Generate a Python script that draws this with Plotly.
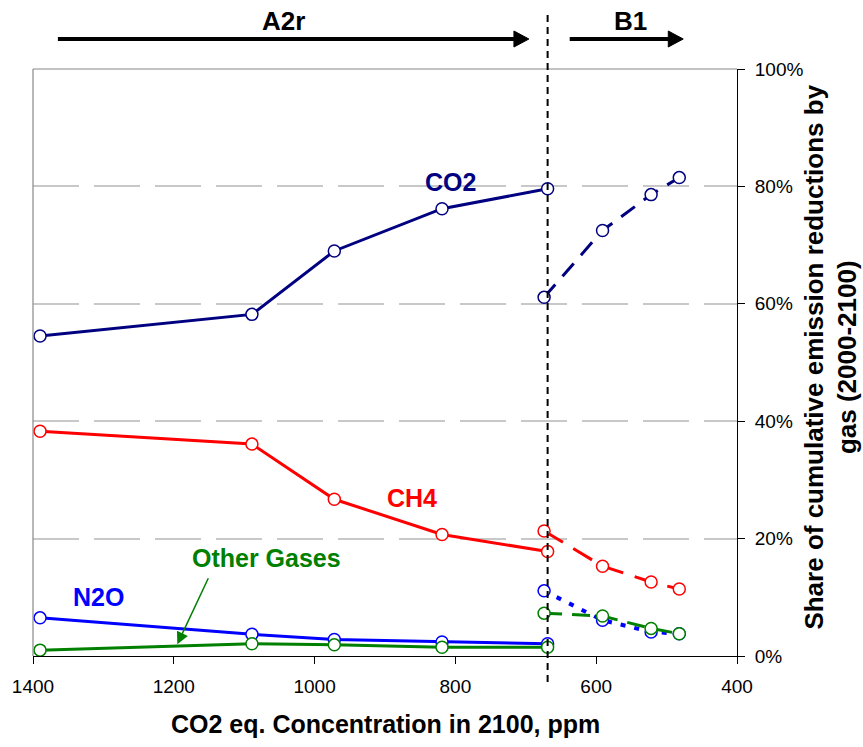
import plotly.graph_objects as go

# CO2-eq concentration in 2100 (ppm) for each scenario family
conc_a2r = [1390, 1089, 972, 819, 669]
conc_b1 = [674, 591, 522, 482]

# Share of cumulative emission reductions 2000-2100 (%), by gas
co2_a2r = [54.5, 58.2, 69.0, 76.2, 79.6]
ch4_a2r = [38.3, 36.1, 26.7, 20.7, 17.8]
n2o_a2r = [6.5, 3.7, 2.8, 2.4, 2.1]
oth_a2r = [1.0, 2.1, 1.9, 1.5, 1.5]

co2_b1 = [61.1, 72.5, 78.6, 81.5]
ch4_b1 = [21.3, 15.3, 12.6, 11.4]
n2o_b1 = [11.1, 6.1, 4.1, 3.8]
oth_b1 = [7.3, 6.8, 4.7, 3.8]

x_ticks = [1400, 1200, 1000, 800, 600, 400]
y_ticks = [0, 20, 40, 60, 80, 100]
y_tick_text = [f"{v}%" for v in y_ticks]

FONT = "Liberation Sans, Arial, sans-serif"
NAVY, RED, BLUE, GREEN = "#000080", "#FF0000", "#0000FF", "#008000"

W, H = 863, 747
L, R, T, B = 30, 126, 69, 91
PW, PH = W - L - R, H - T - B


def px_x(p):
    return (p - L) / PW


def px_y(p):
    return (H - B - p) / PH


fig = go.Figure()

series = [
    (co2_a2r, co2_b1, NAVY, "17px,11px", 3),
    (ch4_a2r, ch4_b1, RED, "22px,12px", 3),
    (n2o_a2r, n2o_b1, BLUE, "5px,9px", 4),
    (oth_a2r, oth_b1, GREEN, "18px,10px", 3),
]

for a2r, b1, color, dash, bw in series:
    fig.add_trace(go.Scatter(
        x=conc_a2r, y=a2r, mode="lines+markers",
        line=dict(color=color, width=3),
        marker=dict(symbol="circle", size=12, color="white",
                    line=dict(color=color, width=1.5)),
        cliponaxis=False, showlegend=False, hoverinfo="skip"))
    fig.add_trace(go.Scatter(
        x=conc_b1, y=b1, mode="lines+markers",
        line=dict(color=color, width=bw, dash=dash),
        marker=dict(symbol="circle", size=12, color="white",
                    line=dict(color=color, width=1.5)),
        cliponaxis=False, showlegend=False, hoverinfo="skip"))

shapes = [
    # gray frame on the left and top
    dict(type="line", xref="paper", yref="paper", x0=0, x1=0, y0=0, y1=1,
         line=dict(color="#888888", width=1.2)),
    dict(type="line", xref="paper", yref="paper", x0=0, x1=1, y0=1, y1=1,
         line=dict(color="#888888", width=1.2)),
    # boundary between the scenario families
    dict(type="line", xref="x", yref="paper", x0=conc_a2r[-1], x1=conc_a2r[-1],
         y0=px_y(682), y1=px_y(12),
         line=dict(color="black", width=2, dash="7px,5px")),
    # A2r arrow
    dict(type="line", xref="paper", yref="paper",
         x0=px_x(55), x1=px_x(515), y0=px_y(39), y1=px_y(39),
         line=dict(color="black", width=4)),
    dict(type="path", xref="paper", yref="paper",
         path=f"M {px_x(513)} {px_y(31)} L {px_x(528)} {px_y(39)} "
              f"L {px_x(513)} {px_y(47)} Z",
         fillcolor="black", line=dict(color="black", width=1)),
    # B1 arrow
    dict(type="line", xref="paper", yref="paper",
         x0=px_x(569), x1=px_x(670), y0=px_y(39), y1=px_y(39),
         line=dict(color="black", width=4)),
    dict(type="path", xref="paper", yref="paper",
         path=f"M {px_x(668)} {px_y(31)} L {px_x(683)} {px_y(39)} "
              f"L {px_x(668)} {px_y(47)} Z",
         fillcolor="black", line=dict(color="black", width=1)),
]

label_font = dict(family=FONT, size=25)
centered = dict(xanchor="center", yanchor="middle", showarrow=False)
annotations = [
    dict(x=px_x(282), y=px_y(21), xref="paper", yref="paper", text="<b>A2r</b>",
         font=dict(family=FONT, size=26, color="black"), **centered),
    dict(x=px_x(630), y=px_y(21), xref="paper", yref="paper", text="<b>B1</b>",
         font=dict(family=FONT, size=26, color="black"), **centered),
    dict(x=807, y=80.7, xref="x", yref="y", text="<b>CO2</b>",
         font=dict(label_font, color=NAVY), **centered),
    dict(x=862, y=26.9, xref="x", yref="y", text="<b>CH4</b>",
         font=dict(label_font, color=RED), **centered),
    dict(x=1307, y=10.0, xref="x", yref="y", text="<b>N2O</b>",
         font=dict(label_font, color=BLUE), **centered),
    dict(x=1068, y=16.7, xref="x", yref="y", text="<b>Other Gases</b>",
         font=dict(label_font, color=GREEN), **centered),
    # pointer to the Other Gases line
    dict(x=1195, y=2.0, xref="x", yref="y", ax=1150, ay=13.5, axref="x", ayref="y",
         text="", showarrow=True, arrowhead=2, arrowsize=1.6, arrowwidth=1.5,
         arrowcolor=GREEN, standoff=0),
    # axis titles
    dict(x=0.5, y=px_y(724), xref="paper", yref="paper",
         text="<b>CO2 eq. Concentration in 2100, ppm</b>",
         font=dict(family=FONT, size=25, color="black"), **centered),
    dict(x=px_x(831), y=px_y(357), xref="paper", yref="paper", textangle=-90,
         text="<b>Share of cumulative emission reductions by<br>gas (2000-2100)</b>",
         align="center", font=dict(family=FONT, size=26, color="black"), **centered),
]

fig.update_layout(
    width=W, height=H,
    margin=dict(l=L, r=R, t=T, b=B, pad=0),
    paper_bgcolor="white", plot_bgcolor="white",
    shapes=shapes, annotations=annotations,
    font=dict(family=FONT, color="black"),
    xaxis=dict(
        range=[1400, 400], tickvals=x_ticks, ticktext=[str(v) for v in x_ticks],
        showgrid=False, zeroline=False,
        showline=True, linecolor="black", linewidth=1,
        ticks="outside", ticklen=7, tickwidth=1, tickcolor="black",
        tickfont=dict(family=FONT, size=19, color="black"),
        ticklabelstandoff=6,
    ),
    yaxis=dict(
        range=[0, 100], tickvals=y_ticks, ticktext=y_tick_text, side="right",
        showgrid=True, gridcolor="#c8c8c8", gridwidth=1.5, griddash="46px,15px",
        zeroline=False,
        showline=True, linecolor="black", linewidth=1,
        ticks="outside", ticklen=7, tickwidth=1, tickcolor="black",
        tickfont=dict(family=FONT, size=19, color="black"),
        ticklabelstandoff=6,
    ),
)

fig.write_html("out.html")
